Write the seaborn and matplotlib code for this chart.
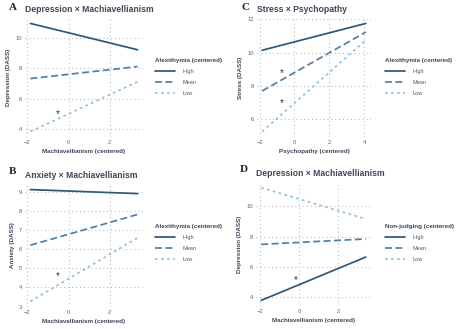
import numpy as np
import pandas as pd
import matplotlib
matplotlib.use("Agg")
import matplotlib.pyplot as plt
import seaborn as sns

sns.set_theme(style="white")
plt.rcParams['font.family'] = ['Liberation Sans', 'DejaVu Sans']

levels = ["High", "Mean", "Low"]

# Panel A: Depression x Machiavellianism (Alexithymia moderator)
a_x = [-1.85, 3.35]
a_high = [10.93, 9.20]
a_mean = [7.31, 8.10]
a_low = [3.83, 7.10]
a_star = (-0.5, 5.0)

# Panel B: Anxiety x Machiavellianism (Alexithymia moderator)
b_x = [-1.85, 3.35]
b_high = [9.12, 8.91]
b_mean = [6.21, 7.82]
b_low = [3.27, 6.60]
b_star = (-0.5, 4.6)

# Panel C: Stress x Psychopathy (Alexithymia moderator)
c_x = [-1.85, 4.1]
c_high = [10.14, 11.75]
c_mean = [7.70, 11.23]
c_low = [5.26, 10.75]
c_stars = [(-0.75, 8.8), (-0.75, 6.95)]

# Panel D: Depression x Machiavellianism (Non-judging moderator)
d_x = [-1.95, 3.4]
d_high = [3.77, 6.64]
d_mean = [7.48, 7.84]
d_low = [11.24, 9.16]
d_star = (-0.2, 5.1)

panels = [
    dict(letter="A", title="Depression × Machiavellianism", x=a_x, ys=[a_high, a_mean, a_low],
         xlabel="Machiavellianism (centered)", ylabel="Depression (DASS)",
         legend="Alexithymia (centered)", stars=[a_star],
         xticks=[-2, 0, 2], yticks=[4, 6, 8, 10], box=(25, 143, 18, 137), leg=(155, 58),
         lettery=7),
    dict(letter="C", title="Stress × Psychopathy", x=c_x, ys=[c_high, c_mean, c_low],
         xlabel="Psychopathy (centered)", ylabel="Stress (DASS)",
         legend="Alexithymia (centered)", stars=c_stars,
         xticks=[-2, 0, 2, 4], yticks=[6, 8, 10, 12], box=(257, 371, 18, 137), leg=(385, 58),
         lettery=7),
    dict(letter="B", title="Anxiety × Machiavellianism", x=b_x, ys=[b_high, b_mean, b_low],
         xlabel="Machiavellianism (centered)", ylabel="Anxiety (DASS)",
         legend="Alexithymia (centered)", stars=[b_star],
         xticks=[-2, 0, 2], yticks=[3, 4, 5, 6, 7, 8, 9], box=(25, 143, 184, 307), leg=(155, 224),
         lettery=171),
    dict(letter="D", title="Depression × Machiavellianism", x=d_x, ys=[d_high, d_mean, d_low],
         xlabel="Machiavellianism (centered)", ylabel="Depression (DASS)",
         legend="Non-judging (centered)", stars=[d_star],
         xticks=[-2, 0, 2], yticks=[4, 6, 8, 10], box=(256, 371, 182, 306), leg=(385, 224),
         lettery=170),
]

W, H = 457, 329
fig = plt.figure(figsize=(W / 100, H / 100), dpi=100)

palette = {"High": "#2d5878", "Mean": "#4f7fa6", "Low": "#8ec3da"}
dashes = {"High": "", "Mean": (4, 2), "Low": (1.5, 2)}
txt = "#3b4658"

for p in panels:
    l, r, t, b = p["box"]
    ax = fig.add_axes([l / W, 1 - b / H, (r - l) / W, (b - t) / H])
    rows = []
    for lev, ys in zip(levels, p["ys"]):
        for xv, yv in zip(p["x"], ys):
            rows.append(dict(x=xv, y=yv, level=lev))
    df = pd.DataFrame(rows)
    sns.lineplot(data=df, x="x", y="y", hue="level", style="level", hue_order=levels,
                 style_order=levels, palette=palette, dashes=dashes, linewidth=1.25, ax=ax)
    xs = p["x"]
    allv = np.concatenate([np.array(v) for v in p["ys"]])
    xr = xs[1] - xs[0]
    yr = allv.max() - allv.min()
    ax.set_xlim(xs[0] - 0.05 * xr, xs[1] + 0.05 * xr)
    ax.set_ylim(allv.min() - 0.05 * yr, allv.max() + 0.05 * yr)
    ax.set_xticks(p["xticks"])
    ax.set_yticks(p["yticks"])
    ax.tick_params(labelsize=4.2, colors="#666666", length=0, pad=2)
    ax.grid(True, linestyle=(0, (1, 3)), color="#b0b0b0", linewidth=0.7)
    for s in ax.spines.values():
        s.set_visible(False)
    ax.set_xlabel(p["xlabel"], fontsize=4.5, color=txt, fontweight="bold", labelpad=3)
    ax.set_ylabel(p["ylabel"], fontsize=4.5, color=txt, fontweight="bold", labelpad=3)
    ax.set_title(p["title"], fontsize=6.2, color=txt, fontweight="bold", loc="left", pad=4)
    for sx, sy in p["stars"]:
        ax.text(sx, sy, "*", fontsize=7, color="#333333", ha="center", va="center")
    fig.text((l - 16) / W, 1 - p["lettery"] / H, p["letter"], fontsize=8,
             fontweight="bold", family="Liberation Serif", color="#222222", va="center")
    lx, ly = p["leg"]
    leg = ax.legend(title=p["legend"], loc="upper left", bbox_to_anchor=(lx / W, 1 - ly / H),
                    bbox_transform=fig.transFigure, frameon=False, fontsize=4,
                    title_fontsize=4.5, handlelength=3.6, labelspacing=1.1, handletextpad=1.4,
                    borderaxespad=0, borderpad=0)
    leg.get_title().set_fontweight("bold")
    leg.get_title().set_color(txt)
    leg._legend_box.align = "left"
    for tx in leg.get_texts():
        tx.set_color("#555555")

fig.savefig("out.png", dpi=100)
